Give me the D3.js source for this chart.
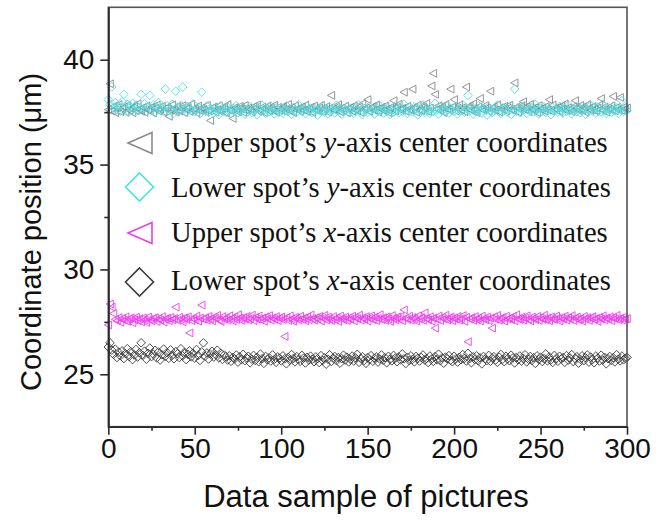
<!DOCTYPE html>
<html><head><meta charset="utf-8">
<script src="https://cdn.jsdelivr.net/npm/d3@7"></script>
<style>html,body{margin:0;padding:0;background:#fff;}svg{display:block;}</style>
</head><body>
<svg id="chart" width="656" height="523"></svg>
<script>
// ---- DATA ----
const xTicks = [0, 50, 100, 150, 200, 250, 300];
const yTicks = [25, 30, 35, 40];
const seriesNames = [
  "Upper spot\u2019s |y|-axis center coordinates",
  "Lower spot\u2019s |y|-axis center coordinates",
  "Upper spot\u2019s |x|-axis center coordinates",
  "Lower spot\u2019s |x|-axis center coordinates"
];
// sample index = position in array (0..300)
const upperY = [
37.62,38.85,37.55,37.78,37.48,37.70,37.86,37.52,37.66,37.74,37.50,37.82,37.60,37.68,37.47,37.76,37.58,37.90,37.63,37.54,
37.72,37.49,37.80,37.61,37.57,37.75,37.46,37.69,37.84,37.55,37.64,37.78,37.51,37.67,37.73,37.30,37.59,37.85,37.62,37.50,
37.77,37.56,37.68,37.81,37.48,37.64,37.72,37.53,37.88,37.60,37.66,37.47,37.79,37.58,37.70,37.63,37.52,37.83,37.57,37.10,
37.69,37.75,37.50,37.62,37.80,37.55,37.67,37.73,37.46,37.86,37.61,37.58,37.20,37.71,37.64,37.52,37.78,37.66,37.49,37.82,
37.57,37.70,37.63,37.51,37.76,37.68,37.85,37.54,37.60,37.74,37.48,37.65,37.79,37.56,37.69,37.61,37.83,37.50,37.72,37.59,
37.66,37.77,37.53,37.64,37.87,37.58,37.71,37.47,37.80,37.62,37.68,37.55,37.75,37.60,37.84,37.52,37.67,37.73,37.49,37.79,
37.61,37.56,37.70,37.82,37.54,37.65,37.76,37.50,37.68,38.30,37.63,37.58,37.74,37.86,37.52,37.69,37.60,37.78,37.47,37.66,
37.72,37.55,37.81,37.62,37.57,37.75,37.49,37.90,37.64,37.70,38.10,37.53,37.67,37.77,37.60,37.85,37.51,37.68,37.73,37.58,
37.80,37.63,37.48,37.71,37.66,38.05,37.56,37.74,37.88,37.61,37.69,38.45,37.54,37.78,37.65,37.59,38.60,37.72,37.50,37.83,
37.62,37.57,37.76,37.68,37.92,37.53,37.70,38.75,39.35,38.35,37.64,37.81,37.58,37.73,37.49,37.87,37.66,37.60,38.60,37.75,
38.10,37.55,37.69,37.84,37.61,37.72,37.52,38.70,37.67,37.79,37.57,37.90,37.63,37.48,37.76,38.15,37.65,37.59,37.82,37.70,
37.54,38.50,37.68,37.74,37.60,37.86,37.51,37.71,37.64,37.78,37.56,37.69,37.83,37.62,37.58,38.90,37.73,37.50,37.66,37.80,
38.00,37.61,37.75,37.53,37.87,37.67,37.59,37.72,37.48,37.81,37.64,37.70,37.56,37.77,37.62,38.10,37.55,37.84,37.68,37.60,
37.74,37.51,37.79,37.65,37.89,37.58,37.71,37.63,37.52,37.76,38.05,37.67,37.57,37.82,37.61,37.73,37.49,37.86,37.66,37.59,
37.77,37.62,37.54,37.70,37.83,38.15,37.60,37.75,37.50,37.68,37.64,37.80,38.25,37.56,37.72,37.61,38.20,37.58,37.74,37.66,
37.70];
const lowerY = [
38.10,37.85,38.70,37.70,37.95,37.62,37.80,37.55,38.00,38.35,37.68,37.88,37.50,37.75,37.92,37.60,37.83,37.58,37.72,38.35,
37.66,37.90,37.54,37.78,38.30,37.63,37.85,37.48,37.74,37.96,37.60,37.70,37.52,38.60,37.80,37.57,37.67,37.88,37.45,38.50,
37.73,37.56,37.82,38.70,37.62,37.49,37.77,37.68,37.58,37.90,37.52,37.66,37.75,37.43,38.45,37.64,37.55,37.80,37.50,37.69,
37.58,37.46,37.72,37.63,37.38,37.80,37.55,37.67,37.49,37.75,37.60,37.42,37.69,37.54,37.82,37.47,37.64,37.58,37.71,37.40,
37.62,37.53,37.76,37.48,37.66,37.59,37.37,37.73,37.55,37.84,37.61,37.44,37.68,37.52,37.79,37.57,37.41,37.70,37.63,37.50,
37.74,37.45,37.60,37.81,37.54,37.67,37.39,37.72,37.58,37.49,37.86,37.62,37.53,37.69,37.43,37.77,37.56,37.64,37.47,37.71,
37.59,37.36,37.68,37.55,37.80,37.50,37.65,37.42,37.74,37.58,37.61,37.46,37.83,37.54,37.69,37.40,37.63,37.57,37.76,37.49,
37.66,37.52,37.44,37.72,37.60,37.85,37.55,37.38,37.68,37.62,37.48,37.78,37.57,37.64,37.41,37.70,37.53,37.82,37.59,37.45,
37.67,37.56,37.74,37.39,37.61,37.50,37.80,37.63,37.47,37.69,37.54,37.88,37.58,37.43,37.72,37.60,37.51,37.76,37.65,37.37,
37.62,37.55,37.84,37.48,37.70,37.58,37.44,37.66,37.53,37.92,37.60,37.41,37.73,37.57,37.65,37.50,37.79,37.46,37.68,37.61,
37.54,37.75,37.42,37.63,37.58,37.86,37.49,37.67,38.30,37.56,37.71,37.40,37.64,37.52,37.81,37.59,37.45,37.69,37.62,37.36,
37.74,37.57,37.48,37.66,37.60,37.83,37.53,37.43,37.70,37.58,37.64,37.50,37.77,37.39,37.61,38.60,37.55,37.72,37.47,37.65,
37.59,37.80,37.44,37.63,37.56,37.70,37.51,37.87,37.62,37.41,37.68,37.54,37.75,37.48,37.60,37.66,37.38,37.73,37.57,37.64,
37.50,37.78,37.61,37.45,37.69,37.55,37.84,37.59,37.42,37.67,37.63,37.52,37.76,37.47,37.62,37.71,37.40,37.65,37.58,37.82,
37.54,37.68,37.46,37.73,37.60,37.51,37.88,37.57,37.43,37.66,37.62,37.49,37.79,37.56,37.70,37.44,37.64,38.05,37.53,37.67,
37.58];
const upperX = [
27.35,28.35,28.20,27.90,27.62,27.55,27.70,27.48,27.66,27.58,27.74,27.52,27.63,27.69,27.45,27.60,27.72,27.56,27.65,27.50,
27.68,27.59,27.47,27.73,27.61,27.54,27.67,27.70,27.52,27.64,27.58,27.75,27.49,27.62,27.68,27.55,27.71,27.60,27.66,28.20,
27.57,27.72,27.63,27.50,27.69,27.61,27.74,26.97,27.56,27.66,27.60,27.78,27.53,27.68,28.30,27.62,27.70,27.58,27.76,27.64,
27.55,27.72,27.67,27.81,27.60,27.52,27.75,27.63,27.69,27.58,27.79,27.65,27.54,27.73,27.61,27.84,27.68,27.57,27.70,27.62,
27.76,27.59,27.66,27.82,27.55,27.71,27.63,27.78,27.60,27.68,27.52,27.74,27.65,27.80,27.58,27.69,27.62,27.75,27.56,27.67,
27.73,27.61,26.80,27.70,27.57,27.79,27.64,27.53,27.72,27.66,27.59,27.77,27.62,27.68,27.55,27.74,27.60,27.83,27.65,27.58,
27.70,27.63,27.76,27.54,27.67,27.81,27.59,27.72,27.64,27.56,27.75,27.61,27.69,27.52,27.78,27.66,27.60,27.73,27.57,27.68,
27.62,27.77,27.55,27.71,27.65,27.82,27.58,27.69,27.63,27.75,27.53,27.67,27.79,27.60,27.72,27.56,27.66,27.84,27.61,27.70,
27.57,27.74,27.64,27.52,27.80,27.67,27.59,27.73,27.62,27.76,27.55,28.07,27.68,27.61,27.77,27.58,27.71,27.65,27.54,27.79,
27.63,27.70,27.57,27.93,27.66,27.60,27.74,27.53,27.68,27.20,27.62,27.78,27.56,27.71,27.64,27.82,27.59,27.67,27.73,27.55,
27.69,27.62,27.76,27.58,27.65,27.80,27.52,27.72,26.55,27.63,27.70,27.57,27.75,27.61,27.67,27.54,27.78,27.64,27.60,27.73,
27.56,27.68,27.20,27.74,27.62,27.81,27.58,27.66,27.71,27.53,27.77,27.63,27.69,27.60,27.75,27.55,27.84,27.65,27.61,27.72,
27.58,27.67,27.79,27.62,27.54,27.73,27.66,27.60,27.76,27.57,27.70,27.63,27.82,27.59,27.68,27.55,27.74,27.64,27.61,27.78,
27.66,27.53,27.71,27.63,27.77,27.58,27.69,27.62,27.80,27.56,27.67,27.73,27.60,27.65,27.54,27.76,27.63,27.70,27.57,27.68,
27.75,27.61,27.66,27.52,27.72,27.64,27.79,27.59,27.68,27.62,27.74,27.56,27.70,27.65,27.81,27.60,27.67,27.58,27.73,27.63,
27.66];
const lowerX = [
26.30,26.50,26.15,25.95,26.20,25.80,26.05,25.88,26.12,25.75,25.98,26.22,25.85,26.08,25.70,25.92,26.18,25.82,26.02,26.50,
25.90,26.10,25.72,26.00,26.25,25.84,25.96,26.14,25.78,26.06,25.68,25.93,26.20,25.86,26.03,25.76,26.16,25.91,25.74,26.09,
25.98,25.80,26.22,25.88,26.04,25.70,25.95,26.12,25.83,26.00,25.77,26.18,25.90,25.66,26.07,26.50,25.86,26.02,25.73,25.96,
26.10,25.82,25.94,26.15,25.78,26.00,25.71,25.92,25.84,25.68,25.88,25.62,25.80,25.74,25.92,25.58,25.83,25.70,25.95,25.65,
25.78,25.86,25.55,25.72,25.90,25.66,25.81,25.60,25.96,25.74,25.52,25.85,25.69,25.79,25.63,25.92,25.71,25.57,25.83,25.76,
25.64,25.88,25.73,25.50,25.80,25.67,25.94,25.75,25.59,25.84,25.70,25.62,25.90,25.77,25.54,25.81,25.68,25.86,25.72,25.60,
25.83,25.74,25.56,25.89,25.66,25.79,25.48,25.72,25.93,25.61,25.77,25.85,25.65,25.80,25.53,25.74,25.91,25.68,25.82,25.59,
25.71,25.87,25.63,25.78,25.95,25.57,25.75,25.84,25.66,25.52,25.80,25.70,25.89,25.62,25.76,25.83,25.58,25.73,25.92,25.67,
25.79,25.55,25.86,25.72,25.64,25.90,25.77,25.60,25.83,25.69,25.97,25.74,25.51,25.81,25.66,25.88,25.71,25.59,25.85,25.76,
25.63,25.80,25.92,25.68,25.75,25.56,25.87,25.73,25.61,25.84,25.70,25.96,25.65,25.78,25.53,25.82,25.74,25.89,25.67,25.60,
25.86,25.72,25.58,25.81,25.69,25.94,25.76,25.63,26.00,25.75,25.55,25.83,25.70,25.88,25.64,25.79,25.50,25.85,25.73,25.66,
25.90,25.62,25.77,25.84,25.68,25.57,25.82,25.95,25.71,25.60,25.86,25.74,25.65,25.91,25.78,25.54,25.80,25.69,25.87,25.63,
25.76,25.93,25.59,25.72,25.85,25.66,25.79,25.52,25.88,25.70,25.81,25.61,25.75,25.97,25.64,25.83,25.68,25.56,25.90,25.74,
25.62,25.86,25.73,25.80,25.57,25.89,25.67,25.78,25.94,25.60,25.75,25.84,25.53,25.71,25.88,25.65,25.79,25.92,25.58,25.82,
25.70,25.55,25.87,25.76,25.63,25.91,25.68,25.81,25.50,25.74,25.85,25.66,25.79,25.59,25.93,25.72,25.64,25.86,25.69,25.77,
25.80];

// ---- STYLE ----
const colors = ["#8a8a8a", "#45e3ea", "#ee3cee", "#3a3a3a"];
const shapes = ["tri", "dia", "tri", "dia"];
const allSeries = [upperY, lowerY, upperX, lowerX];

const svg = d3.select("#chart");
const M = {left: 108.3, right: 627, top: 7.3, bottom: 426.7};
const x = d3.scaleLinear().domain([0, 300]).range([M.left, M.right]);
const y = d3.scaleLinear().domain([22.5, 42.5]).range([M.bottom, M.top]);

function shapePath(kind, s) {
  if (kind === "tri") return `M${-s},0L${s*0.85},${-s}L${s*0.85},${s}Z`;
  return `M0,${-s}L${s},0L0,${s}L${-s},0Z`;
}

// points
allSeries.forEach((vals, k) => {
  svg.append("g").selectAll("path").data(vals).join("path")
    .attr("transform", (d, i) => `translate(${x(i)},${y(d)})`)
    .attr("d", shapePath(shapes[k], shapes[k] === "tri" ? 3.9 : 4.3))
    .attr("fill", "none").attr("stroke", colors[k]).attr("stroke-width", 0.9);
});

// frame
const axisColor = "#2a2a2a";
svg.append("rect").attr("x", M.left).attr("y", M.top)
  .attr("width", M.right - M.left).attr("height", M.bottom - M.top)
  .attr("fill", "none").attr("stroke", "#555").attr("stroke-width", 1.6);

const xAxis = svg.append("g").attr("transform", `translate(0,${M.bottom})`)
  .call(d3.axisBottom(x).tickValues(xTicks).tickSize(8).tickPadding(3).tickSizeOuter(0));
const xMinor = svg.append("g").attr("transform", `translate(0,${M.bottom})`)
  .call(d3.axisBottom(x).tickValues(d3.range(25, 300, 50)).tickSize(4).tickFormat("").tickSizeOuter(0));
const yAxis = svg.append("g").attr("transform", `translate(${M.left},0)`)
  .call(d3.axisLeft(y).tickValues(yTicks).tickSize(8).tickPadding(6).tickSizeOuter(0));
const yMinor = svg.append("g").attr("transform", `translate(${M.left},0)`)
  .call(d3.axisLeft(y).tickValues([27.5, 32.5, 37.5]).tickSize(4).tickFormat("").tickSizeOuter(0));
[xAxis, xMinor, yAxis, yMinor].forEach(g => {
  g.select(".domain").attr("stroke", axisColor).attr("stroke-width", 1.6);
  g.selectAll(".tick line").attr("stroke", axisColor).attr("stroke-width", 1.6);
  g.selectAll(".tick text").attr("fill", "#111")
    .style("font-family", "'Liberation Sans', Arial, sans-serif").style("font-size", "28px");
});

// axis titles
svg.append("text").attr("x", 366).attr("y", 507).attr("text-anchor", "middle")
  .style("font-family", "'Liberation Sans', Arial, sans-serif").style("font-size", "31px")
  .attr("fill", "#111").text("Data sample of pictures");
svg.append("text").attr("transform", "translate(41,232) rotate(-90)").attr("text-anchor", "middle")
  .style("font-family", "'Liberation Sans', Arial, sans-serif").style("font-size", "29px")
  .attr("fill", "#111").text("Coordinate position (\u03bcm)");

// legend
const legY = [143, 187, 233, 282];
const legBase = [152, 197, 242, 290];
seriesNames.forEach((name, k) => {
  const isTri = shapes[k] === "tri";
  svg.append("path")
    .attr("transform", `translate(${isTri ? 141 : 139.5},${legY[k]})`)
    .attr("d", isTri ? `M-13,0L11,-10.5L11,10.5Z` : `M0,-14L14,0L0,14L-14,0Z`)
    .attr("fill", "#fff").attr("stroke", colors[k]).attr("stroke-width", 1.6);
  const parts = name.split("|");
  const t = svg.append("text").attr("x", 171).attr("y", legBase[k])
    .style("font-family", "'Liberation Serif', 'Times New Roman', serif").style("font-size", "28.6px")
    .attr("fill", "#111");
  t.append("tspan").text(parts[0]);
  t.append("tspan").style("font-style", "italic").text(parts[1]);
  t.append("tspan").text(parts[2]);
});
</script>
</body></html>
